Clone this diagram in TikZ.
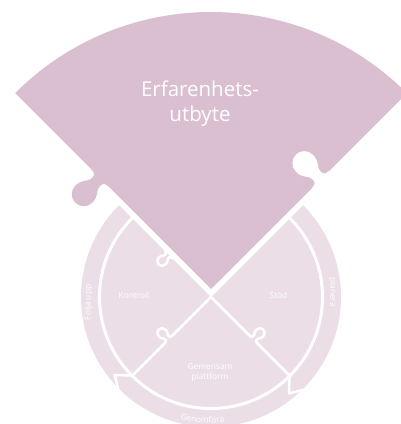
\documentclass[tikz,border=0pt]{standalone}
\usepackage{fontspec}
\setmainfont{Open Sans}
\usetikzlibrary{calc,decorations.text}
\definecolor{wedgec}{RGB}{217,191,208}
\definecolor{piecec}{RGB}{236,222,231}
\newcommand\tabpath{-- (-12,0) .. controls (-6,0) and (-5,3) .. (-6,8) .. controls (-7,12) and (-12,14) .. (-12,23) .. controls (-12,29.63) and (-6.63,35) .. (0,35) .. controls (6.63,35) and (12,29.63) .. (12,23) .. controls (12,14) and (7,12) .. (6,8) .. controls (5,3) and (6,0) .. (12,0)}
\begin{document}
\begin{tikzpicture}[x=1pt,y=1pt,
  wline/.style={draw=white,line width=2.5pt,line join=round},
  lbl/.style={text=white,font=\fontsize{8.3}{10}\selectfont,inner sep=0pt,align=center}]
\useasboundingbox (0,0) rectangle (401,424);
\coordinate (C) at (211,127);
\begin{scope}[shift={(C)}]
 % disc and ring
 \fill[piecec] (0,0) circle[radius=130];
 \draw[white,line width=3pt] (0,0) circle[radius=111.5];
 % puzzle seams
 \draw[wline] (0,0) {[rotate=-45,shift={(60,0)},scale=0.4] \tabpath} -- (-45:112);
 \draw[wline] (0,0) {[rotate=225,shift={(60,0)},yscale=-1,scale=0.4] \tabpath} -- (225:112);
 % arrow chevrons in ring
 \draw[wline] (225:111) -- (219:124) -- (225:131);
 \draw[wline] (-45:111) -- (-51:124) -- (-45:131);
 % top cut
 \fill[white] (0,0) -- (45:200) -- (135:200) -- cycle;
 \draw[wline,rotate=135,shift={(60,0)},scale=0.4] (-12,-2) \tabpath -- (12,-2);
 % top wedge
 \fill[wedgec] (0,8) -- ++(45:277) arc[start angle=45,end angle=135,radius=277] -- cycle;
 \fill[wedgec,shift={(0,8)},rotate=135,shift={(157,0)}] (-12,-4) \tabpath -- (12,-4) -- cycle;
 \fill[white,shift={(0,8)},rotate=45,shift={(155,0)}] (-12,-4) \tabpath -- (12,-4) -- cycle;
 % labels
 \node[lbl,font=\fontsize{20.5}{25}\selectfont] (title) at (-11,193) {Erfarenhets-\\utbyte};
 \node[lbl] (kontroll) at (-77,2) {Kontroll};
 \node[lbl] (stod) at (67.5,2) {Stöd};
 \node[lbl] (gemensam) at (-1,-75.5) {Gemensam\\plattform};
 \node[lbl,rotate=90] (folja) at (-122.5,-5.5) {Följa upp};
 \node[lbl,rotate=-90] (planera) at (121.5,5) {planera};
 \path[decorate,decoration={text along path,text align=center,
   text={|\fontsize{8.3}{10}\selectfont\color{white}|Genomföra}}]
   (-124:126) arc[start angle=-124,end angle=-64,radius=126];
\end{scope}
\end{tikzpicture}
\end{document}
